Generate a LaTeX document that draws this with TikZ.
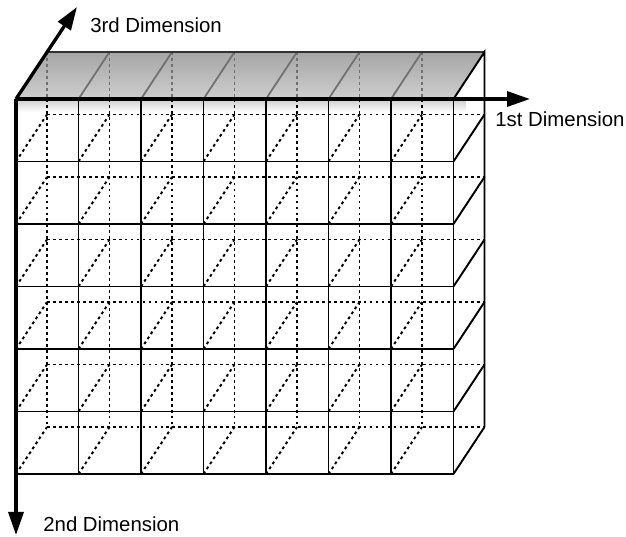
\documentclass[tikz,border=0pt]{standalone}
\usepackage{fontspec}
\setmainfont{Liberation Sans}
\usepackage{xcolor}
\usetikzlibrary{arrows.meta}
\definecolor{lid}{HTML}{B4B4B4}
\definecolor{lidline}{HTML}{707070}

\tikzset{
  edge/.style={black,line width=1.1pt},
  hidden/.style={black,line width=1.1pt,dash pattern=on 1.6pt off 1.8pt},
  axis/.style={black,line width=1.9pt,-{Triangle[length=0.46cm,width=0.3cm]}},
  axislabel/.style={anchor=base west,inner sep=0pt,font=\fontsize{11.6}{13}\selectfont}
}

\begin{document}
\begin{tikzpicture}[x=1cm,y=1cm]
  \useasboundingbox (-0.32,-8.76) rectangle (12.2,1.98);
  \coordinate (o) at (0,0);
  \coordinate (d1) at (10.28,0);
  \coordinate (d2) at (0,-8.72);
  \coordinate (d3) at (1.22,1.84);

  % soft shadow under the lid
  \shade[top color=black!20,bottom color=white] (0,0) rectangle (9.0,-0.26);

  % hidden back lines
  \foreach \i in {0,...,6}
    \draw[hidden] (0.62+1.25*\i,0) -- (0.62+1.25*\i,-6.56);
  \foreach \j in {1,...,6}
    \draw[hidden] (0.62,0.94-1.25*\j) -- (9.37,0.94-1.25*\j);
  \foreach \i in {0,...,6}
    \foreach \j in {1,...,6}
      \draw[hidden] (1.25*\i,-1.25*\j) -- ++(0.62,0.94);

  % lid
  \shade[top color=lid!92!black,bottom color=lid!65!white]
    (o) -- (8.75,0) -- (9.37,0.94) -- (0.62,0.94) -- cycle;
  \foreach \i in {0,...,6}
    \draw[hidden,lidline] (0.62+1.25*\i,0.94) -- (0.62+1.25*\i,0);
  \foreach \i in {1,...,6}
    \draw[lidline,line width=1pt] (1.25*\i,0) -- ++(0.62,0.94);
  \draw[edge,black!80] (0.62,0.94) -- (9.37,0.94);

  % front face
  \foreach \i in {1,...,7}
    \draw[edge] (1.25*\i,0) -- (1.25*\i,-7.5);
  \foreach \j in {1,...,6}
    \draw[edge] (0,-1.25*\j) -- (8.75,-1.25*\j);

  % right face
  \draw[edge] (8.75,0) -- (9.37,0.94) -- (9.37,-6.56);
  \foreach \j in {1,...,6}
    \draw[edge] (8.75,-1.25*\j) -- ++(0.62,0.94);

  % axes
  \draw[axis] (o) -- (d1);
  \draw[axis] (o) -- (d2);
  \draw[axis] (o) -- (d3);
  \node[axislabel] (l3) at (1.48,1.32) {3rd Dimension};
  \node[axislabel] (l1) at (9.58,-0.56) {1st Dimension};
  \node[axislabel] (l2) at (0.54,-8.66) {2nd Dimension};
\end{tikzpicture}
\end{document}
